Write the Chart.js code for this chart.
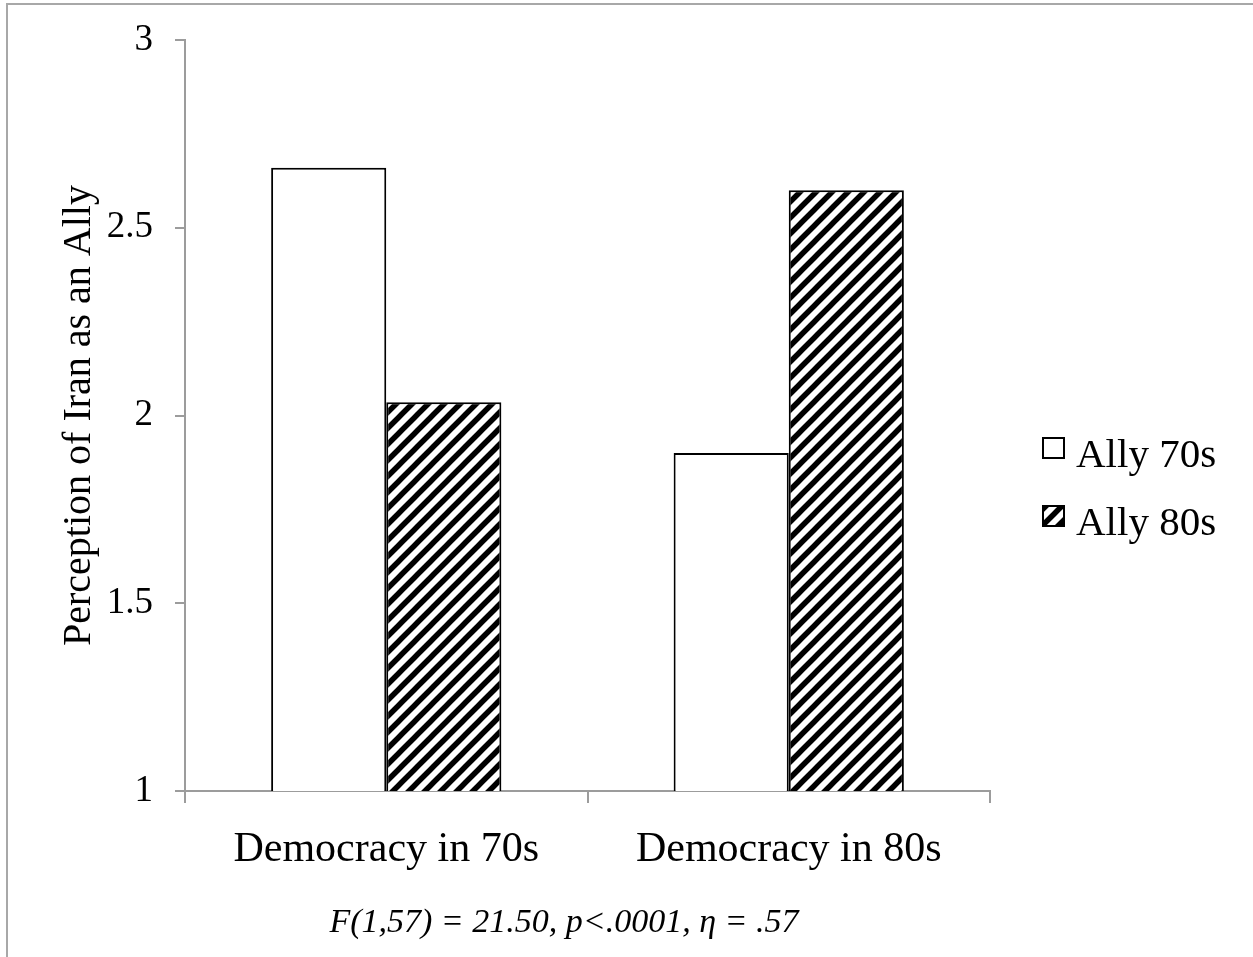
<!DOCTYPE html>
<html>
<head>
<meta charset="utf-8">
<script src="https://cdn.jsdelivr.net/npm/chart.js@4/dist/chart.umd.min.js"></script>
<style>
  body { margin: 0; background: #fff; }
  #wrap { width: 1253px; height: 957px; }
</style>
</head>
<body>
<div id="wrap"><canvas id="chart1"></canvas></div>
<script>
const categories = ["Democracy in 70s", "Democracy in 80s"];
const seriesLabels = ["Ally 70s", "Ally 80s"];
const ally70s = [2.66, 1.90];
const ally80s = [2.035, 2.60];
const yTicks = [1, 1.5, 2, 2.5, 3];
const statsNote = "F(1,57) = 21.50, p<.0001, \u03b7 = .57";

const SERIF = "'Liberation Serif', 'Times New Roman', serif";
const GREY = "#9c9c9c";

// diagonal hatch for the second series
function makeHatch() {
    const c = document.createElement("canvas");
    c.width = c.height = 16;
    const g = c.getContext("2d");
    g.fillStyle = "#fff";
    g.fillRect(0, 0, 16, 16);
    g.strokeStyle = "#000";
    g.lineWidth = 5.5;
    g.beginPath();
    g.moveTo(-4, 20); g.lineTo(20, -4);
    g.moveTo(-4, 4); g.lineTo(4, -4);
    g.moveTo(12, 20); g.lineTo(20, 12);
    g.stroke();
    return g.createPattern(c, "repeat");
}
const hatch = makeHatch();

// grey frame round the picture, like the exported figure
const framePlugin = {
    id: "frame",
    beforeDraw(chart) {
        const ctx = chart.ctx;
        ctx.save();
        ctx.strokeStyle = "#a8a8a8";
        ctx.lineWidth = 2;
        ctx.beginPath();
        ctx.moveTo(7, chart.height);
        ctx.lineTo(7, 4);
        ctx.lineTo(chart.width, 4);
        ctx.stroke();
        ctx.restore();
    }
};

// legend on the right and the statistics line under the axis
const notesPlugin = {
    id: "notes",
    afterDraw(chart) {
        const ctx = chart.ctx;
        ctx.save();
        chart.data.datasets.forEach((ds, i) => {
            const y = 448 + i * 68;
            ctx.fillStyle = ds.backgroundColor;
            ctx.fillRect(1043, y - 10, 21, 20);
            ctx.strokeStyle = "#000";
            ctx.lineWidth = 2;
            ctx.strokeRect(1043, y - 10, 21, 20);
            ctx.fillStyle = "#000";
            ctx.font = "41px " + SERIF;
            ctx.textBaseline = "alphabetic";
            ctx.textAlign = "left";
            ctx.fillText(ds.label, 1076, y + 19);
        });
        ctx.font = "italic 34px " + SERIF;
        ctx.textAlign = "center";
        ctx.fillText(statsNote, 564, 932);
        ctx.restore();
    }
};

const ctx = document.getElementById("chart1").getContext("2d");
new Chart(ctx, {
    type: "bar",
    data: {
        labels: categories,
        datasets: [{
            label: seriesLabels[0],
            data: ally70s,
            backgroundColor: "#ffffff",
            borderColor: "#000",
            borderWidth: 2
        }, {
            label: seriesLabels[1],
            data: ally80s,
            backgroundColor: hatch,
            borderColor: "#000",
            borderWidth: 2
        }]
    },
    options: {
        responsive: true,
        maintainAspectRatio: false,
        animation: false,
        layout: { padding: { left: 0, right: 263, top: 40, bottom: 0 } },
        datasets: {
            bar: { categoryPercentage: 0.572, barPercentage: 1.0 }
        },
        plugins: {
            legend: { display: false },
            tooltip: { enabled: false }
        },
        scales: {
            x: {
                afterFit: s => { s.height = 166; },
                grid: { drawOnChartArea: false, tickLength: 12, color: GREY, lineWidth: 2 },
                border: { color: GREY, width: 2 },
                ticks: { color: "#000", padding: 22, font: { family: SERIF, size: 42 } }
            },
            y: {
                min: 1,
                max: 3,
                afterFit: s => { s.width = 185; },
                afterBuildTicks: s => { s.ticks = yTicks.map(v => ({ value: v })); },
                grid: { drawOnChartArea: false, tickLength: 10, color: GREY, lineWidth: 2 },
                border: { color: GREY, width: 2 },
                ticks: {
                    color: "#000",
                    padding: 22,
                    font: { family: SERIF, size: 37, lineHeight: 0.8 },
                    callback: v => String(v)
                },
                title: {
                    display: true,
                    text: "Perception of Iran as an Ally",
                    color: "#000",
                    padding: { top: 55, bottom: 0 },
                    font: { family: SERIF, size: 40 }
                }
            }
        }
    },
    plugins: [framePlugin, notesPlugin]
});
</script>
</body>
</html>
